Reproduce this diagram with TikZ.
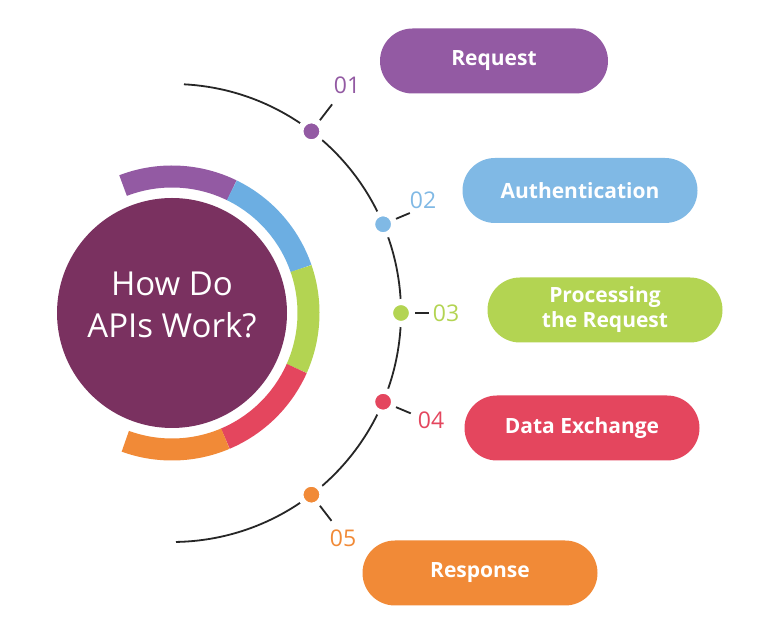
\documentclass[tikz,border=0pt]{standalone}
\usepackage{fontspec}
\setmainfont{Open Sans}
\usetikzlibrary{calc}
\definecolor{apipurple}{HTML}{935AA3}
\definecolor{apiblue}{HTML}{80B9E5}
\definecolor{apiringblue}{HTML}{6CAEE2}
\definecolor{apigreen}{HTML}{B3D452}
\definecolor{apired}{HTML}{E4465E}
\definecolor{apiorange}{HTML}{F18A37}
\definecolor{apiplum}{HTML}{7A3160}
\definecolor{apiline}{HTML}{262626}

\begin{document}
\begin{tikzpicture}[
      x=1pt, y=1pt,
      pill/.style={fill=#1, text=white, minimum width=235pt, minimum height=65pt,
        rounded corners=32.5pt, align=center, font=\fontsize{21}{25}\selectfont\bfseries},
      dot/.style={circle, fill=#1, draw=white, line width=6pt, minimum size=22pt, inner sep=0pt},
      num/.style={text=#1, inner sep=0pt, font=\fontsize{23}{23}\selectfont},
      tick/.style={draw=apiline, line width=1.8pt},
      ringseg/.style={draw=#1, line width=22pt},
    ]
    \fill[white] (0,0) rectangle (768,626);
    \useasboundingbox (0,0) rectangle (768,626);

    \coordinate (c) at (172,313);
    \coordinate (arcstart) at ($(c)+(87:229)$);
    \draw[apiline, line width=1.8pt] (arcstart) arc[start angle=87, end angle=-89, radius=229pt];

    \draw[ringseg=apipurple]   ($(c)+(111:136.5)$) arc[start angle=111, end angle=64, radius=136.5pt];
    \draw[ringseg=apiringblue] ($(c)+(64:136.5)$) arc[start angle=64, end angle=19, radius=136.5pt];
    \draw[ringseg=apigreen]    ($(c)+(19:136.5)$) arc[start angle=19, end angle=-24, radius=136.5pt];
    \draw[ringseg=apired]      ($(c)+(-24:136.5)$) arc[start angle=-24, end angle=-67, radius=136.5pt];
    \draw[ringseg=apiorange]   ($(c)+(-67:136.5)$) arc[start angle=-67, end angle=-110, radius=136.5pt];

    \node[circle, fill=apiplum, minimum size=230pt, inner sep=0pt] (hub) at (c) {};
    \node[text=white, align=center, font=\fontsize{33}{42}\selectfont] (hubtext)
      at ([yshift=8pt]hub.center) {How Do\\APIs Work?};

    \node[dot=apipurple] (d1) at ($(c)+(52.5:229)$) {};
    \node[dot=apiblue]   (d2) at ($(c)+(22.8:229)$) {};
    \node[dot=apigreen]  (d3) at ($(c)+(0:229)$) {};
    \node[dot=apired]    (d4) at ($(c)+(-22.8:229)$) {};
    \node[dot=apiorange] (d5) at ($(c)+(-52.5:229)$) {};

    \coordinate (e1) at ($(c)+(52.5:263)$);
    \coordinate (e2) at ($(c)+(22.8:258)$);
    \coordinate (e3) at ($(c)+(0:257)$);
    \coordinate (e4) at ($(c)+(-22.8:259)$);
    \coordinate (e5) at ($(c)+(-52.5:262)$);
    \draw[tick] (d1) -- (e1);
    \draw[tick] (d2) -- (e2);
    \draw[tick] (d3) -- (e3);
    \draw[tick] (d4) -- (e4);
    \draw[tick] (d5) -- (e5);

    \node[num=apipurple] (n1) at (347,541) {01};
    \node[num=apiblue]   (n2) at (423,426) {02};
    \node[num=apigreen]  (n3) at (446,313) {03};
    \node[num=apired]    (n4) at (431,206) {04};
    \node[num=apiorange] (n5) at (343,88)  {05};

    \node[pill=apipurple, minimum width=228pt] (request) at (494,565) {Request};
    \node[pill=apiblue]   (auth) at (580,435.5) {Authentication};
    \node[pill=apigreen]  (proc) at (605,316) {Processing\\the Request};
    \node[pill=apired]    (data) at (582,198) {Data Exchange};
    \node[pill=apiorange] (resp) at (480,53) {Response};
  \end{tikzpicture}
\end{document}
